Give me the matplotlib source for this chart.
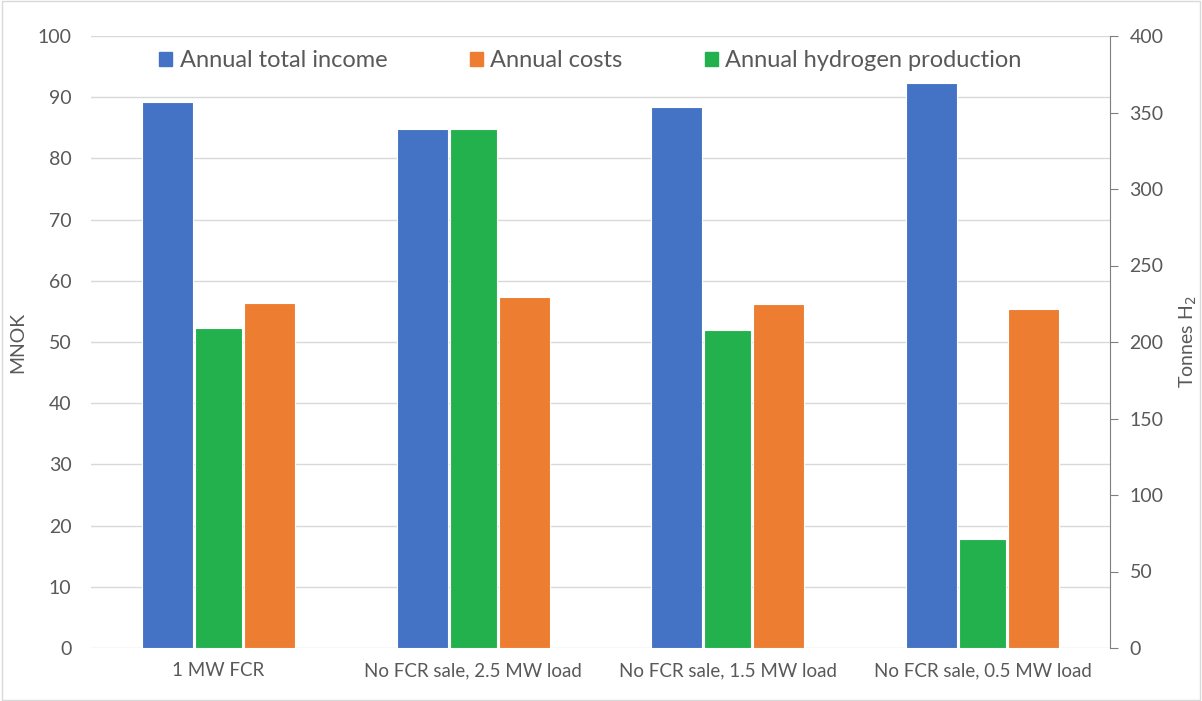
import numpy as np
import matplotlib.pyplot as plt
from matplotlib.patches import Patch

plt.rcParams['font.family'] = ['Lato', 'DejaVu Sans']

categories = ['1 MW FCR', 'No FCR sale, 2.5 MW load',
              'No FCR sale, 1.5 MW load', 'No FCR sale, 0.5 MW load']
income = [89.2, 84.8, 88.4, 92.4]      # MNOK
costs = [56.4, 57.3, 56.2, 55.4]       # MNOK
hydrogen = [209, 339, 208, 71]         # tonnes H2

c_blue = '#4472C4'
c_orange = '#ED7D31'
c_green = '#22B14C'
c_text = '#595959'
c_grid = '#D9D9D9'

x = np.arange(len(categories))

fig = plt.figure(figsize=(12.02, 7.01), dpi=100)
ax = fig.add_axes([91/1202, 53/701, (1110-91)/1202, (648-36)/701])
ax2 = ax.twinx()

ax.bar(x - 0.2, income, width=0.2, color=c_blue, edgecolor='white', linewidth=0.8, zorder=3)
ax.bar(x + 0.2, costs, width=0.2, color=c_orange, edgecolor='white', linewidth=0.8, zorder=3)
ax2.bar(x, hydrogen, width=0.185, color=c_green, edgecolor='white', linewidth=0.8, zorder=3)

ax.set_xlim(-0.5, len(categories) - 0.5)
ax.set_ylim(0, 100)
ax.set_yticks(np.arange(0, 101, 10))
ax2.set_ylim(0, 400)
ax2.set_yticks(np.arange(0, 401, 50))

ax.grid(axis='y', color=c_grid, linewidth=1, zorder=0)
ax.set_axisbelow(True)
for s in ['top', 'left', 'right', 'bottom']:
    ax.spines[s].set_visible(False)
    ax2.spines[s].set_visible(False)
ax2.spines['right'].set_visible(True)
ax2.spines['right'].set_color('#7F7F7F')

ax.set_xticks(x)
ax.set_xticklabels(categories)
ax.tick_params(axis='x', length=0, pad=10, labelsize=13.5, labelcolor=c_text)
ax.tick_params(axis='y', length=0, pad=14, labelsize=14, labelcolor=c_text)
ax2.tick_params(axis='y', length=6, color='#7F7F7F', pad=8, labelsize=14, labelcolor=c_text)

ax.set_ylabel('MNOK', fontsize=14, color=c_text, labelpad=8)
ax2.set_ylabel('Tonnes H$_2$', fontsize=14, color=c_text, labelpad=10)

handles = [Patch(color=c_blue), Patch(color=c_orange), Patch(color=c_green)]
labels = ['Annual total income', 'Annual costs', 'Annual hydrogen production']
ax2.legend(handles, labels, loc='center', bbox_to_anchor=(0.49, 0.96), ncol=3,
           frameon=False, fontsize=17, labelcolor=c_text, handlelength=0.55,
           handleheight=0.55, handletextpad=0.3, columnspacing=3.5)

fig.patches.append(plt.Rectangle((0.002, 0.002), 0.996, 0.996, transform=fig.transFigure,
                                 fill=False, edgecolor=c_grid, linewidth=1))

plt.savefig('out.png', dpi=100)
